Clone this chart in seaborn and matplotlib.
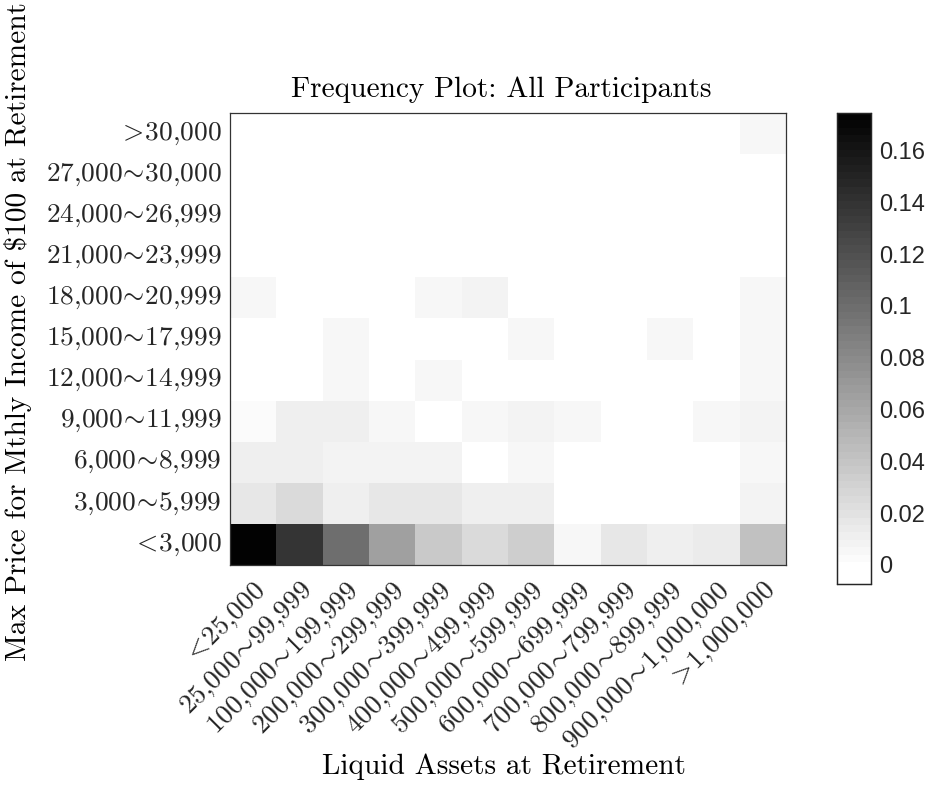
import numpy as np
import pandas as pd
import matplotlib
matplotlib.use("Agg")
import matplotlib.pyplot as plt
from matplotlib.colors import ListedColormap
import seaborn as sns

sns.set_style("white")
plt.rcParams['font.family'] = ['cmr10', 'DejaVu Serif']
plt.rcParams['mathtext.fontset'] = 'cm'
plt.rcParams['axes.unicode_minus'] = False
plt.rcParams['axes.formatter.use_mathtext'] = True

S = '$\\!\\sim\\!$'
x_labels = ['$<\\!$25,000', '25,000' + S + '99,999', '100,000' + S + '199,999', '200,000' + S + '299,999',
            '300,000' + S + '399,999', '400,000' + S + '499,999', '500,000' + S + '599,999',
            '600,000' + S + '699,999', '700,000' + S + '799,999', '800,000' + S + '899,999',
            '900,000' + S + '1,000,000', '$>\\!$1,000,000']
y_labels = ['$>\\!$30,000', '27,000' + S + '30,000', '24,000' + S + '26,999', '21,000' + S + '23,999',
            '18,000' + S + '20,999', '15,000' + S + '17,999', '12,000' + S + '14,999',
            '9,000' + S + '11,999', '6,000' + S + '8,999', '3,000' + S + '5,999', '$<\\!$3,000']

row_gt30000 = [0, 0, 0, 0, 0, 0, 0, 0, 0, 0, 0, 0.0041]
row_27000 = [0] * 12
row_24000 = [0] * 12
row_21000 = [0] * 12
row_18000 = [0.004, 0, 0, 0, 0.004, 0.007, 0, 0, 0, 0, 0, 0.004]
row_15000 = [0, 0, 0.004, 0, 0, 0, 0.004, 0, 0, 0.005, 0, 0.004]
row_12000 = [0, 0, 0.004, 0, 0.004, 0, 0, 0, 0, 0, 0, 0.004]
row_9000 = [0.003, 0.010, 0.010, 0.005, 0, 0.005, 0.007, 0.004, 0, 0, 0.005, 0.007]
row_6000 = [0.010, 0.010, 0.007, 0.007, 0.007, 0, 0.004, 0, 0, 0, 0, 0.004]
row_3000 = [0.017, 0.026, 0.010, 0.018, 0.018, 0.012, 0.010, 0, 0, 0, 0, 0.008]
row_lt3000 = [0.1745, 0.140, 0.0986, 0.065, 0.0377, 0.026, 0.035, 0.004, 0.0157, 0.0103, 0.015, 0.043]

cbar_ticks = [0, 0.02, 0.04, 0.06, 0.08, 0.1, 0.12, 0.14, 0.16]

data = pd.DataFrame([row_gt30000, row_27000, row_24000, row_21000, row_18000, row_15000,
                     row_12000, row_9000, row_6000, row_3000, row_lt3000],
                    index=y_labels, columns=x_labels)

W, H = 928.0, 789.0
fig = plt.figure(figsize=(9.28, 7.89), dpi=100)
ax = fig.add_axes([230 / W, 1 - 565 / H, (786 - 230) / W, (565 - 113) / H])
cax = fig.add_axes([837 / W, 1 - 584 / H, (871 - 837) / W, (584 - 113) / H])

vmax = 0.1745
vmin = -0.0074
N = 64
lv = vmin + (np.arange(N) + 0.5) / N * (vmax - vmin)
g = 1 - np.clip(lv, 0, None) / vmax
cmap = ListedColormap(np.column_stack([g, g, g]))

sns.heatmap(data, ax=ax, cbar_ax=cax, cmap=cmap, vmin=vmin, vmax=vmax, linewidths=0)

fs = 19.7
ax.set_xticklabels(x_labels, rotation=45, ha='right', rotation_mode='anchor', fontsize=fs)
ax.set_yticklabels(y_labels, rotation=0, fontsize=fs)
ax.set_xlabel('')
ax.set_ylabel('')
ax.tick_params(axis='both', direction='in', length=5, width=1.0, color='#333333',
               top=True, right=True, bottom=True, left=True,
               labeltop=False, labelright=False)
ax.tick_params(axis='y', pad=6)
ax.tick_params(axis='x', pad=9)
for s in ax.spines.values():
    s.set_visible(True)
    s.set_color('#333333')
    s.set_linewidth(0.9)

fs_lab = 21.2
fig.text(501 / W, 1 - 90 / H, 'Frequency Plot: All Participants', ha='center', va='center',
         fontsize=fs_lab, color='black')
fig.text(504 / W, 1 - 767 / H, 'Liquid Assets at Retirement', ha='center', va='center',
         fontsize=fs_lab, color='black')
fig.text(18 / W, 1 - 332 / H, 'Max Price for Mthly Income of \\$100 at Retirement', ha='center',
         va='center', rotation=90, fontsize=fs_lab, color='black')

cax.set_yticks(cbar_ticks)
cax.set_yticklabels(['%g' % t for t in cbar_ticks], family='Liberation Sans', fontsize=17, color='#262626')
cax.tick_params(axis='y', direction='in', length=5, width=1.0, color='#333333', right=True, left=False, pad=6)
for s in cax.spines.values():
    s.set_visible(True)
    s.set_color('#262626')
    s.set_linewidth(0.9)

fig.savefig('out.png', dpi=100)
